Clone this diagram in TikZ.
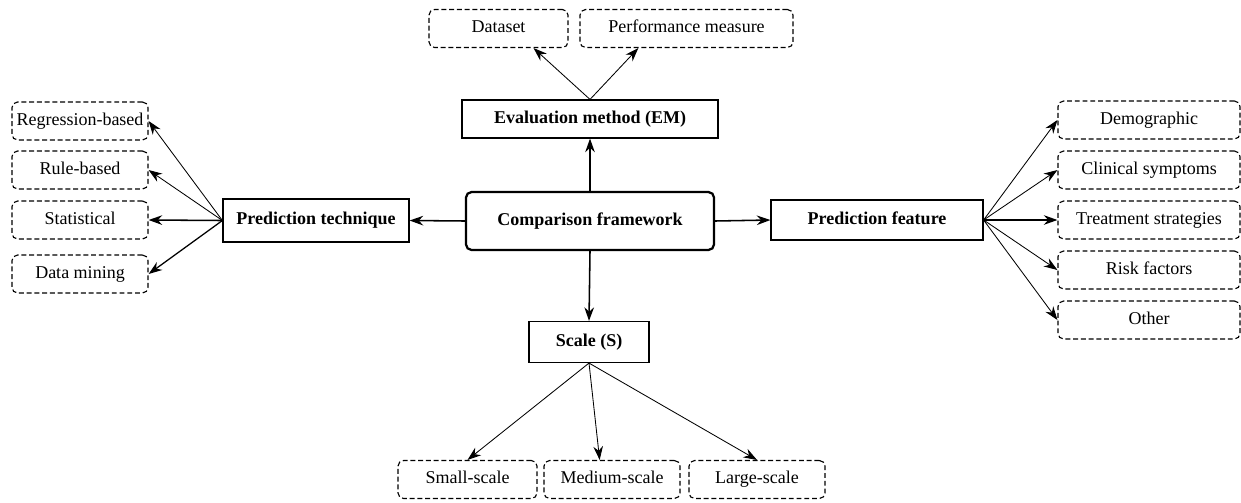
\documentclass[tikz,border=0pt]{standalone}
\usepackage{fontspec}
\setmainfont{Liberation Serif}
\newfontfamily\diagfont{Liberation Serif}
\usepackage{tikz}
\usetikzlibrary{arrows.meta,positioning,calc}

\begin{document}
\begin{tikzpicture}[
    x=0.025cm, y=-0.025cm,
    every node/.style={font=\diagfont\fontsize{12.8}{15}\selectfont, inner sep=0pt, text height=0.68em, text depth=0.1em},
    mainbox/.style={draw,line width=0.8pt,minimum height=0.95cm,font=\diagfont\fontsize{12.8}{15}\selectfont\bfseries},
    subbox/.style={draw,dashed,dash pattern=on 3.5pt off 2pt,line width=0.8pt,rounded corners=4pt,minimum height=0.95cm},
    arr/.style={-{Stealth[length=3.4mm,width=2.4mm]},line width=0.6pt},
    bigarr/.style={arr,line width=1.1pt}
]
\useasboundingbox (0,0) rectangle (1241,502);

% centre
\node[mainbox,line width=1.6pt,rounded corners=4pt,minimum width=6.2cm,minimum height=1.45cm] (comp) at (590,221) {Comparison framework};

% level one
\node[mainbox,minimum width=6.4cm] (em) at (590,119) {Evaluation method (EM)};
\node[mainbox,minimum width=4.65cm,minimum height=1.075cm] (tech) at (316,220.5) {Prediction technique};
\node[mainbox,minimum width=5.3cm,minimum height=1.0cm] (feat) at (877,220) {Prediction feature};
\node[mainbox,minimum width=3.0cm,minimum height=1.025cm] (scale) at (589,342) {Scale (S)};

\draw[bigarr] (comp.north) -- (em.south);
\draw[bigarr] (comp.west) -- (tech.east);
\draw[bigarr] (comp.east) -- (feat.west);
\draw[bigarr] (comp.south) -- (scale.north);

% evaluation method
\node[subbox,minimum width=3.475cm] (dataset) at (498.5,28.5) {Dataset};
\node[subbox,minimum width=5.325cm] (perf) at (686.5,28.5) {Performance measure};
\draw[arr] (em.north) -- ($(dataset.south)!0.5!(dataset.south east)$);
\draw[arr] (em.north) -- ($(perf.south west)!0.55!(perf.south)$);

% prediction technique
\node[subbox,minimum width=3.4cm] (regr) at (80,121) {Regression-based};
\node[subbox,minimum width=3.4cm] (rule) at (80,170) {Rule-based};
\node[subbox,minimum width=3.4cm] (stat) at (80,220) {Statistical};
\node[subbox,minimum width=3.4cm] (mining) at (80,274) {Data mining};
\draw[arr] (tech.west) -- (regr.east);
\draw[arr] (tech.west) -- (rule.east);
\draw[bigarr] (tech.west) -- (stat.east);
\draw[arr,line width=0.9pt] (tech.west) -- (mining.east);

% prediction feature
\node[subbox,minimum width=4.55cm] (demo) at (1149,120) {Demographic};
\node[subbox,minimum width=4.55cm] (clin) at (1149,170) {Clinical symptoms};
\node[subbox,minimum width=4.55cm] (treat) at (1149,220) {Treatment strategies};
\node[subbox,minimum width=4.55cm] (risk) at (1149,270) {Risk factors};
\node[subbox,minimum width=4.55cm] (other) at (1149,320) {Other};
\draw[arr] (feat.east) -- (demo.west);
\draw[arr] (feat.east) -- (clin.west);
\draw[arr,line width=0.9pt] (feat.east) -- (treat.west);
\draw[arr] (feat.east) -- (risk.west);
\draw[arr] (feat.east) -- (other.west);

% scale
\node[subbox,minimum width=3.475cm] (small) at (467.5,479.5) {Small-scale};
\node[subbox,minimum width=3.4cm] (medium) at (612,479.5) {Medium-scale};
\node[subbox,minimum width=3.4cm] (large) at (757,479.5) {Large-scale};
\draw[arr] (scale.south) -- (small.north);
\draw[arr] (scale.south) -- ($(medium.north west)!0.82!(medium.north)$);
\draw[arr] (scale.south) -- (large.north);
\end{tikzpicture}
\end{document}
